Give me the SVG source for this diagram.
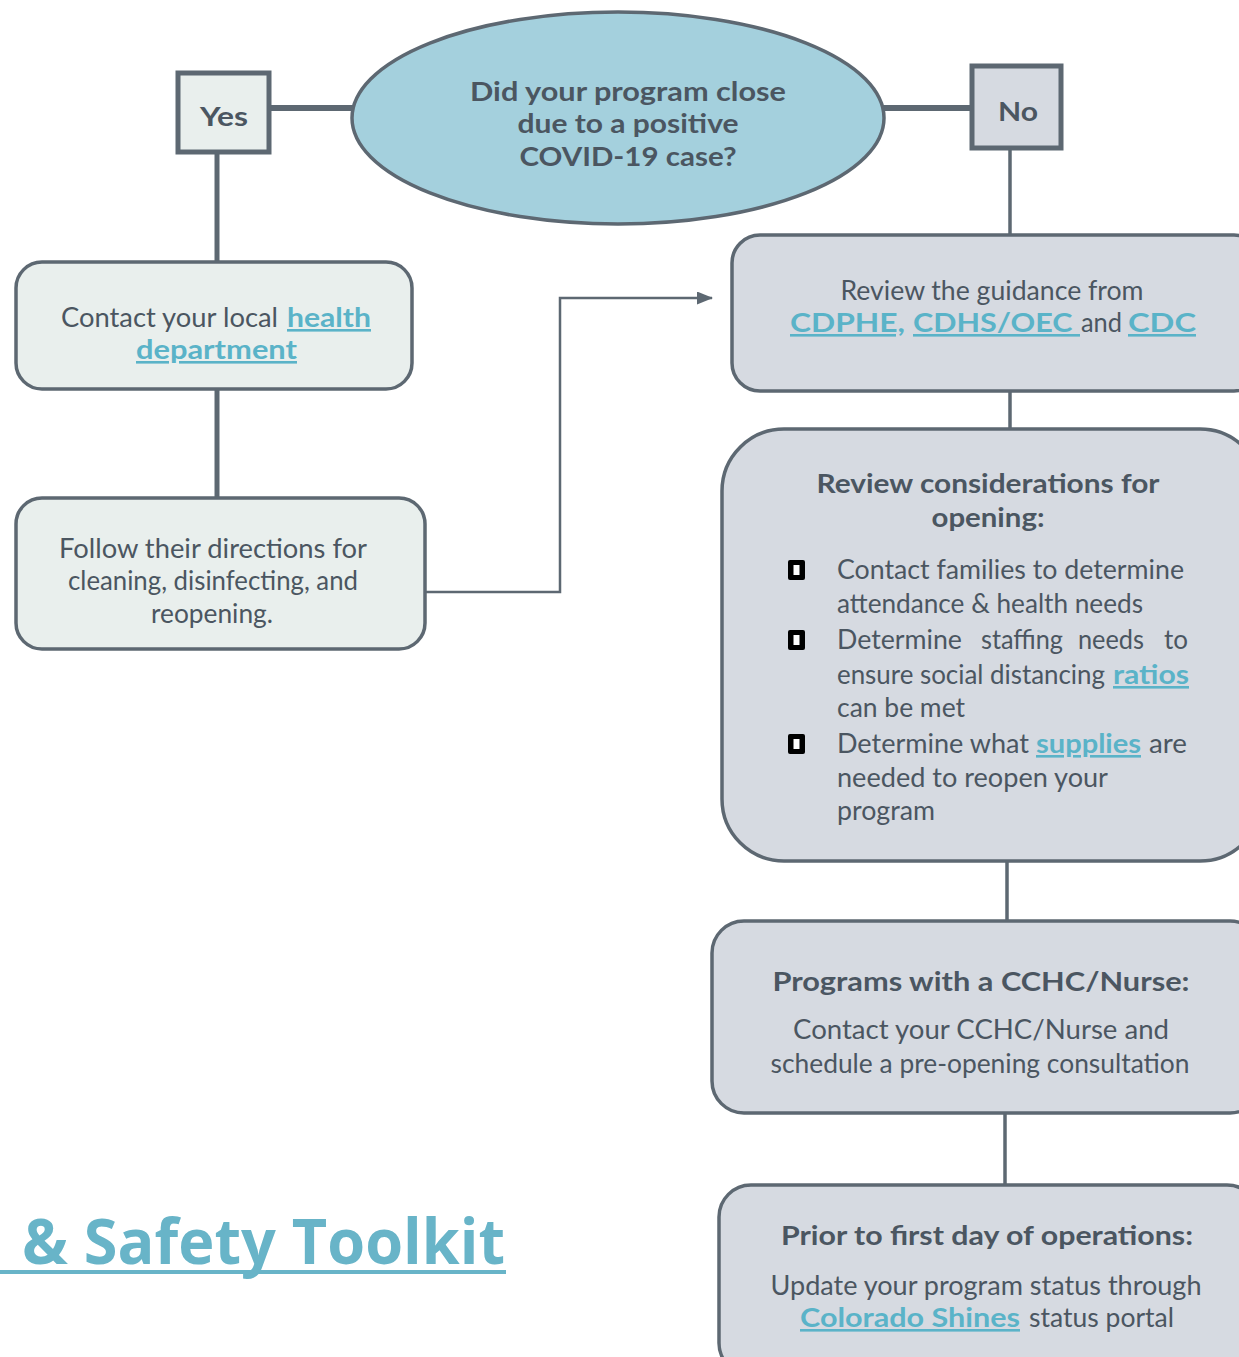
<svg xmlns="http://www.w3.org/2000/svg" width="1239" height="1357" viewBox="0 0 1239 1357">
<style>
.t{font-family:Lato,"Liberation Sans",sans-serif;font-size:26px;fill:#4b5661}
.b{font-weight:700}
.c{text-anchor:middle}
.lk{font-family:Lato,"Liberation Sans",sans-serif;font-size:26px;fill:#5ab3c8;font-weight:700;text-decoration:underline}
.box{stroke:#5d6872;stroke-width:3.5}
.g{fill:#e9efed}
.bl{fill:#d6dae1}
.ln{stroke:#5d6872;fill:none}
</style>
<defs>
<marker id="ah" markerWidth="16" markerHeight="13" refX="15" refY="6.5" orient="auto" markerUnits="userSpaceOnUse">
<path d="M0,0 L16,6.5 L0,13 Z" fill="#5d6872"/>
</marker>
<g id="bul"><rect x="0" y="0" width="17" height="20" rx="2" fill="#000"/><rect x="5.5" y="5" width="6" height="10" fill="#fff"/></g>
</defs>
<rect width="1239" height="1357" fill="#fff"/>
<g id="connectors">
<line class="ln" x1="269" y1="108" x2="354" y2="108" stroke-width="6"/>
<line class="ln" x1="883" y1="108" x2="972" y2="108" stroke-width="6"/>
<line class="ln" x1="217" y1="152" x2="217" y2="263" stroke-width="5"/>
<line class="ln" x1="1010" y1="148" x2="1010" y2="236" stroke-width="3.5"/>
<line class="ln" x1="217" y1="389" x2="217" y2="499" stroke-width="5"/>
<path class="ln" d="M426,592 H560 V298 H712" stroke-width="2.5" marker-end="url(#ah)"/>
<line class="ln" x1="1010" y1="391" x2="1010" y2="430" stroke-width="3.5"/>
<line class="ln" x1="1007" y1="861" x2="1007" y2="922" stroke-width="3.5"/>
<line class="ln" x1="1005" y1="1113" x2="1005" y2="1186" stroke-width="3.5"/>
</g>
<g id="question">
<ellipse cx="618" cy="118" rx="266" ry="106" fill="#a4d0dd" stroke="#5d6872" stroke-width="3.5"/>
<text class="t b c" x="628" y="101" textLength="316" lengthAdjust="spacingAndGlyphs">Did your program close</text>
<text class="t b c" x="628" y="133" textLength="221" lengthAdjust="spacingAndGlyphs">due to a positive</text>
<text class="t b c" x="628" y="166" textLength="217" lengthAdjust="spacingAndGlyphs">COVID-19 case?</text>
</g>
<g id="yes">
<rect x="178" y="73" width="91" height="79" class="g" stroke="#5d6872" stroke-width="5"/>
<text class="t b c" x="224" y="126" textLength="48" lengthAdjust="spacingAndGlyphs">Yes</text>
</g>
<g id="no">
<rect x="972" y="66" width="89" height="82" class="bl" stroke="#5d6872" stroke-width="5"/>
<text class="t b c" x="1018" y="121" textLength="40" lengthAdjust="spacingAndGlyphs">No</text>
</g>
<g id="contact-health">
<rect x="16" y="262" width="396" height="127" rx="26" class="box g"/>
<text class="t" x="61" y="327" textLength="217" lengthAdjust="spacingAndGlyphs">Contact your local</text>
<text class="lk" x="287" y="327" textLength="84" lengthAdjust="spacingAndGlyphs">health</text>
<text class="lk" x="136" y="359" textLength="161" lengthAdjust="spacingAndGlyphs">department</text>
</g>
<g id="follow">
<rect x="16" y="498" width="409" height="151" rx="26" class="box g"/>
<text class="t c" x="213" y="558" textLength="308" lengthAdjust="spacingAndGlyphs">Follow their directions for</text>
<text class="t c" x="213" y="590" textLength="290" lengthAdjust="spacingAndGlyphs">cleaning, disinfecting, and</text>
<text class="t c" x="212" y="623" textLength="122" lengthAdjust="spacingAndGlyphs">reopening.</text>
</g>
<g id="review-guidance">
<rect x="732" y="235" width="530" height="156" rx="28" class="box bl"/>
<text class="t c" x="992" y="300" textLength="303" lengthAdjust="spacingAndGlyphs">Review the guidance from</text>
<text class="lk" x="790" y="332" textLength="115" lengthAdjust="spacingAndGlyphs">CDPHE,</text>
<text class="lk" x="913" y="332" textLength="167" lengthAdjust="spacingAndGlyphs" xml:space="preserve">CDHS/OEC </text>
<text class="t" x="1081" y="332" textLength="41" lengthAdjust="spacingAndGlyphs">and</text>
<text class="lk" x="1128" y="332" textLength="68" lengthAdjust="spacingAndGlyphs">CDC</text>
</g>
<g id="considerations">
<rect x="722" y="429" width="540" height="432" rx="62" class="box bl"/>
<text class="t b c" x="988" y="493" textLength="343" lengthAdjust="spacingAndGlyphs">Review considerations for</text>
<text class="t b c" x="988" y="527" textLength="113" lengthAdjust="spacingAndGlyphs">opening:</text>
<use href="#bul" x="788" y="560"/>
<use href="#bul" x="788" y="630"/>
<use href="#bul" x="788" y="734"/>
<text class="t" x="837" y="579" textLength="347" lengthAdjust="spacingAndGlyphs">Contact families to determine</text>
<text class="t" x="837" y="613" textLength="306" lengthAdjust="spacingAndGlyphs">attendance &amp; health needs</text>
<text class="t" x="837" y="649" textLength="125" lengthAdjust="spacingAndGlyphs">Determine</text>
<text class="t" x="981" y="649" textLength="82" lengthAdjust="spacingAndGlyphs">staffing</text>
<text class="t" x="1078" y="649" textLength="66" lengthAdjust="spacingAndGlyphs">needs</text>
<text class="t" x="1164" y="649" textLength="24" lengthAdjust="spacingAndGlyphs">to</text>
<text class="t" x="837" y="684" textLength="268" lengthAdjust="spacingAndGlyphs">ensure social distancing</text>
<text class="lk" x="1113" y="684" textLength="76" lengthAdjust="spacingAndGlyphs">ratios</text>
<text class="t" x="837" y="717" textLength="128" lengthAdjust="spacingAndGlyphs">can be met</text>
<text class="t" x="837" y="753" textLength="192" lengthAdjust="spacingAndGlyphs">Determine what</text>
<text class="lk" x="1036" y="753" textLength="105" lengthAdjust="spacingAndGlyphs">supplies</text>
<text class="t" x="1149" y="753" textLength="38" lengthAdjust="spacingAndGlyphs">are</text>
<text class="t" x="837" y="787" textLength="271" lengthAdjust="spacingAndGlyphs">needed to reopen your</text>
<text class="t" x="837" y="820" textLength="98" lengthAdjust="spacingAndGlyphs">program</text>
</g>
<g id="cchc">
<rect x="712" y="921" width="550" height="192" rx="32" class="box bl"/>
<text class="t b c" x="981" y="991" textLength="417" lengthAdjust="spacingAndGlyphs">Programs with a CCHC/Nurse:</text>
<text class="t c" x="981" y="1039" textLength="376" lengthAdjust="spacingAndGlyphs">Contact your CCHC/Nurse and</text>
<text class="t c" x="980" y="1073" textLength="419" lengthAdjust="spacingAndGlyphs">schedule a pre-opening consultation</text>
</g>
<g id="prior">
<rect x="719" y="1185" width="540" height="190" rx="32" class="box bl"/>
<text class="t b c" x="987" y="1245" textLength="412" lengthAdjust="spacingAndGlyphs">Prior to first day of operations:</text>
<text class="t c" x="986" y="1295" textLength="431" lengthAdjust="spacingAndGlyphs">Update your program status through</text>
<text class="lk" x="800" y="1327" textLength="220" lengthAdjust="spacingAndGlyphs">Colorado Shines</text>
<text class="t" x="1029" y="1327" textLength="145" lengthAdjust="spacingAndGlyphs">status portal</text>
</g>
<g id="toolkit-title">
<text x="22" y="1264" font-family="'Open Sans',Lato,sans-serif" font-weight="700" font-size="62" fill="#68b4c8" textLength="483" lengthAdjust="spacingAndGlyphs">&amp; Safety Toolkit</text>
<rect x="0" y="1270" width="506" height="4" fill="#68b4c8"/>
</g>
</svg>
